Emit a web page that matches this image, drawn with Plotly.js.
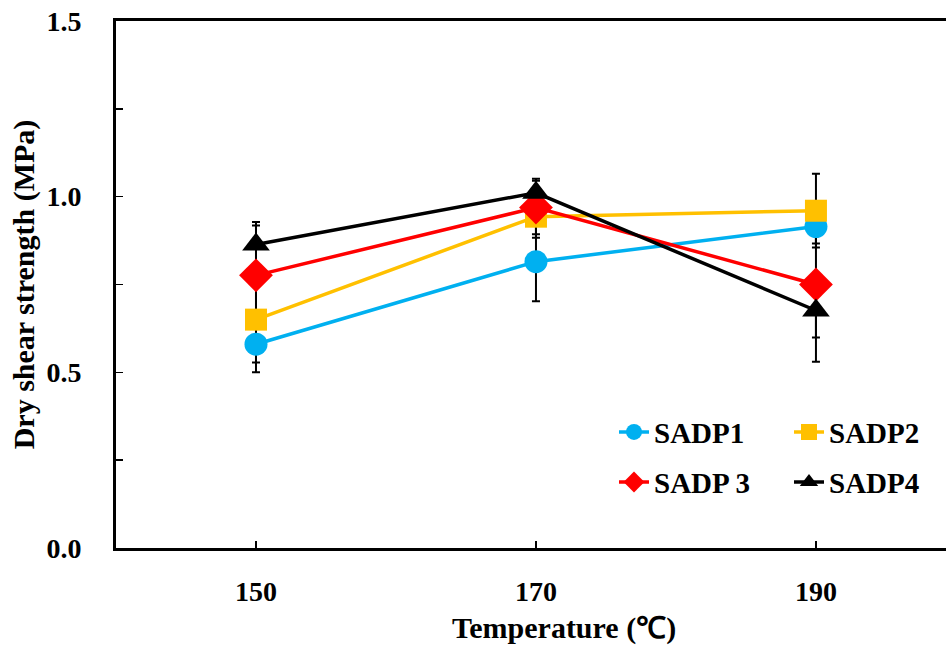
<!DOCTYPE html>
<html>
<head>
<meta charset="utf-8">
<script src="https://cdn.plot.ly/plotly-3.0.1.min.js"></script>
<style>html,body{margin:0;padding:0;background:#fff;}#chart{width:946px;height:646px;}</style>
</head>
<body>
<div id="chart"></div>
<script>
const temperature = [150, 170, 190];
const sadp1 = [0.58, 0.815, 0.915];
const sadp2 = [0.65, 0.943, 0.96];
const sadp3 = [0.776, 0.969, 0.75];
const sadp4 = [0.864, 1.011, 0.676];
const err1 = [0.08, 0.113, 0.048];
const err2 = [0.122, 0.06, 0.105];
const err3 = [0.142, 0.076, 0.22];
const err4 = [0.064, 0.04, 0.077];
const names = ['SADP1', 'SADP2', 'SADP 3', 'SADP4'];

const series = [sadp1, sadp2, sadp3, sadp4];
const errs = [err1, err2, err3, err4];
const colors = ['#00B0F0', '#FFC000', '#FF0000', '#000000'];
const symbols = ['circle', 'square', 'diamond', 'triangle-up'];
const sizes = [23, 22, 26, 24];
const legends = ['legend', 'legend', 'legend2', 'legend2'];

const traces = [];
series.forEach((s, i) => {
  traces.push({
    x: temperature, y: s, type: 'scatter', mode: 'lines',
    line: {width: 0, color: 'rgba(0,0,0,0)'},
    showlegend: false, hoverinfo: 'skip',
    error_y: {type: 'data', array: errs[i], visible: true, color: '#000', thickness: 2, width: 4}
  });
});
series.forEach((s, i) => {
  traces.push({
    x: temperature, y: s, type: 'scatter', mode: 'lines+markers', name: names[i],
    legend: legends[i],
    line: {color: colors[i], width: 3.5},
    marker: {color: colors[i], symbol: symbols[i], size: sizes[i]}
  });
});

function bf(size) { return {family: 'Liberation Serif', size: size, color: '#000', weight: 700}; }

const layout = {
  width: 946, height: 646,
  margin: {l: 116, r: 0, t: 21, b: 98, autoexpand: false},
  paper_bgcolor: '#fff', plot_bgcolor: '#fff',
  showlegend: true,
  xaxis: {
    range: [140, 199.29],
    tickvals: temperature,
    ticktext: temperature.map(String),
    ticks: 'inside', ticklen: 7, tickwidth: 1.5, tickcolor: '#000',
    showline: true, linewidth: 3, linecolor: '#000', mirror: true,
    showgrid: false, zeroline: false,
    tickfont: bf(28),
    ticklabelstandoff: 16
  },
  yaxis: {
    range: [0, 1.5],
    dtick: 0.5, tick0: 0, tickformat: '.1f',
    ticks: 'inside', ticklen: 7, tickwidth: 1.5, tickcolor: '#000',
    minor: {dtick: 0.25, ticks: 'inside', ticklen: 7, tickwidth: 1.5, tickcolor: '#000', showgrid: false},
    showline: true, linewidth: 3, linecolor: '#000', mirror: false,
    showgrid: false, zeroline: false,
    tickfont: bf(28),
    ticklabelstandoff: 26,
    title: {text: 'Dry shear strength (MPa)', font: bf(30), standoff: 3}
  },
  annotations: [{
    text: 'Temperature (℃)', xref: 'paper', yref: 'paper',
    x: 0.54, y: -0.152, xanchor: 'center', yanchor: 'middle',
    showarrow: false, font: bf(30)
  }],
  legend: {
    orientation: 'h', x: 0.6, y: 0.22, xanchor: 'left', yanchor: 'middle',
    font: bf(29), bgcolor: 'rgba(0,0,0,0)', entrywidth: 130, tracegroupgap: 0
  },
  legend2: {
    orientation: 'h', x: 0.6, y: 0.125, xanchor: 'left', yanchor: 'middle',
    font: bf(29), bgcolor: 'rgba(0,0,0,0)', entrywidth: 130, tracegroupgap: 0
  }
};

Plotly.newPlot('chart', traces, layout, {displayModeBar: false, staticPlot: true});
</script>
</body>
</html>
